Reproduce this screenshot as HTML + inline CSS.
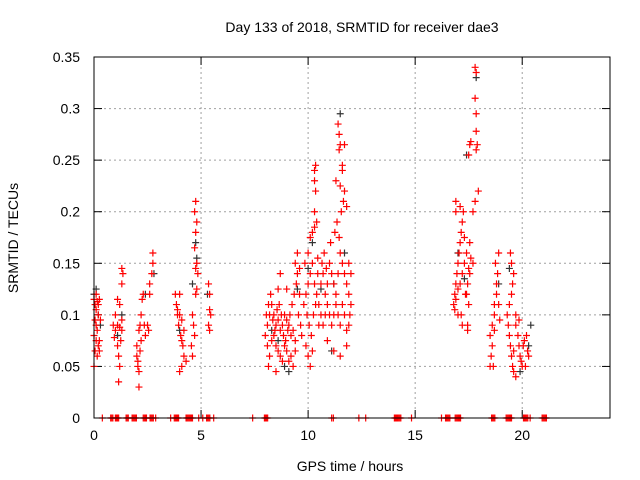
<!DOCTYPE html>
<html><head><meta charset="utf-8"><style>
body{margin:0;background:#fff}
svg{display:block;font-family:"Liberation Sans",sans-serif}
</style></head><body>
<svg id="chart" width="640" height="480">
<text x="362" y="32" font-size="14" text-anchor="middle">Day 133 of 2018, SRMTID for receiver dae3</text>
<text transform="translate(18,238) rotate(-90)" font-size="14" text-anchor="middle">SRMTID / TECUs</text>
<text x="350" y="471" font-size="14" text-anchor="middle">GPS time / hours</text>
<g id="grid"></g>
<g id="axes"></g>
<g id="pts"></g>
<rect x="94" y="57" width="516" height="361" fill="none" stroke="#000"/>
</svg>
<script>
const xTicks=[0,5,10,15,20];
const yTicks=[0,0.05,0.1,0.15,0.2,0.25,0.3,0.35];
const yTickLabels=["0","0.05","0.1","0.15","0.2","0.25","0.3","0.35"];
const redX=[0,0.05,0.1,0.15,0.2,0.25,0.05,0.1,0.15,0,0.1,0.2,0.05,0.15,0.25,0,0.3,0.2,0.1,0.25,
0.9,1,1.1,1.2,1.3,1,1.1,1.2,1.3,1.35,1.3,1.1,1.15,1.2,1.15,1.25,0.95,1.3,
2,2.05,2.1,2,2.15,2.1,2.2,2.15,2.2,2.25,2.3,2.35,2.4,2.05,2.1,2.6,2.7,2.75,2.75,2.6,2.5,2.55,
3.8,3.85,3.9,4,4.1,3.95,4.05,4.1,4.15,4.2,4.1,4,4.2,3.9,4.3,4,
4.6,4.65,4.7,4.55,4.75,4.8,4.75,4.8,4.7,4.75,4.7,4.75,4.8,4.85,4.6,
5.35,5.4,5.4,5.45,5.35,5.4,
8,8.1,8.2,8.3,8.4,8.5,8.6,8.7,8.8,8.9,9,9.1,9.2,9.3,9.4,8.1,8.2,8.3,8.4,8.5,8.6,8.7,8.8,8.9,9,9.1,9.2,9.3,9.4,8.05,8.15,8.25,8.35,8.45,8.55,8.65,8.75,8.85,8.95,9.05,9.15,9.25,9.35,9.45,9.5,9.4,9.5,9,8.6,8.7,9.6,9.6,9.55,9.65,9.7,8.15,8.5,
9.8,9.9,10,10.1,10.2,10.3,10.4,10.5,9.85,9.95,10.05,10.15,10.25,10.35,10.45,10,10.1,10.2,10.3,10.3,10.35,10.3,10.35,10.3,10.4,9.9,10,10.1,10.2,10.5,10.45,
10.6,10.7,10.8,10.9,11,11.1,11.2,11.3,11.4,11.5,11.6,11.7,11.8,11.9,12,10.6,10.7,10.8,10.9,11,11.1,11.2,11.3,11.4,11.5,11.6,11.7,11.8,11.9,12,10.65,10.75,10.85,11.05,11.25,11.35,11.45,11.55,11.65,11.7,11.5,11.6,11.45,11.45,11.4,11.5,11.7,11.6,11.3,11.8,11.9,11.95,11.5,11.2,11.8,10.9,
16.8,16.85,16.9,16.95,17,17.05,17.1,17.15,17.2,17.25,16.9,17,17.1,17.2,17.3,17.4,17.5,17.45,17.35,16.85,17,17.2,17.15,17.4,17.5,17.55,17.3,16.9,16.9,17.1,17.45,17.45,17.6,17.7,17.8,17.7,17.55,
17.8,17.85,17.8,17.85,17.85,17.9,17.85,17.5,17.55,17.6,17.95,
18.5,18.6,18.7,18.6,18.55,18.5,18.65,18.7,18.8,18.8,18.85,18.9,18.75,18.7,18.9,18.95,19.3,19.35,19.4,19.45,19.5,19.4,19.5,19.55,19.5,19.45,19.6,19.55,19.6,19.7,19.6,19.7,19.8,19.85,19.9,19.95,20,20.05,20.1,20.2,20.25,20.3,19.85,19.7,20.15];
const redY=[0.115,0.11,0.105,0.113,0.11,0.115,0.095,0.09,0.085,0.08,0.075,0.07,0.065,0.06,0.065,0.05,0.095,0.1,0.12,0.075,
0.09,0.085,0.09,0.088,0.085,0.1,0.115,0.11,0.13,0.14,0.145,0.07,0.06,0.05,0.035,0.075,0.078,0.095,
0.06,0.05,0.045,0.07,0.065,0.03,0.075,0.09,0.1,0.115,0.12,0.09,0.08,0.055,0.085,0.13,0.14,0.15,0.16,0.12,0.09,0.085,
0.12,0.11,0.1,0.1,0.095,0.09,0.08,0.075,0.07,0.06,0.05,0.045,0.085,0.105,0.055,0.12,
0.1,0.09,0.08,0.07,0.12,0.125,0.145,0.15,0.165,0.18,0.2,0.21,0.19,0.14,0.06,
0.13,0.12,0.105,0.1,0.09,0.085,
0.08,0.09,0.1,0.11,0.1,0.09,0.095,0.085,0.09,0.1,0.095,0.09,0.08,0.085,0.075,0.07,0.06,0.075,0.08,0.07,0.065,0.06,0.055,0.07,0.065,0.055,0.06,0.05,0.065,0.1,0.11,0.12,0.095,0.085,0.105,0.11,0.1,0.08,0.075,0.085,0.1,0.11,0.12,0.13,0.14,0.15,0.16,0.125,0.125,0.14,0.145,0.12,0.1,0.09,0.08,0.05,0.045,
0.11,0.12,0.13,0.14,0.15,0.13,0.12,0.11,0.15,0.1,0.09,0.08,0.1,0.11,0.14,0.16,0.175,0.18,0.185,0.2,0.22,0.23,0.245,0.24,0.19,0.07,0.06,0.05,0.065,0.09,0.155,
0.13,0.14,0.12,0.13,0.15,0.14,0.13,0.12,0.14,0.16,0.15,0.14,0.13,0.12,0.14,0.1,0.09,0.1,0.11,0.1,0.09,0.1,0.11,0.1,0.09,0.11,0.1,0.085,0.09,0.11,0.15,0.16,0.145,0.17,0.18,0.19,0.175,0.2,0.21,0.22,0.225,0.24,0.26,0.275,0.285,0.265,0.265,0.245,0.23,0.205,0.15,0.1,0.06,0.065,0.07,0.075,
0.11,0.12,0.13,0.14,0.15,0.16,0.17,0.18,0.19,0.2,0.115,0.125,0.13,0.14,0.15,0.16,0.145,0.13,0.12,0.105,0.1,0.09,0.1,0.12,0.11,0.17,0.175,0.2,0.21,0.205,0.09,0.085,0.155,0.2,0.21,0.15,0.14,
0.34,0.335,0.31,0.295,0.278,0.265,0.26,0.255,0.265,0.268,0.22,
0.08,0.09,0.1,0.07,0.06,0.05,0.05,0.085,0.12,0.13,0.14,0.16,0.15,0.11,0.11,0.095,0.1,0.09,0.08,0.07,0.06,0.11,0.12,0.13,0.15,0.16,0.14,0.05,0.045,0.04,0.065,0.09,0.08,0.07,0.06,0.055,0.05,0.07,0.075,0.08,0.065,0.06,0.095,0.1,0.05];
const blackX=[0,0.1,0.2,0.3,1.1,1.3,2.4,2.8,4,4.6,4.75,4.8,5.3,8.3,8.6,8.9,9.1,9.5,10,10.2,10.6,11.1,11.2,11.5,11.7,17,17.3,17.4,17.85,18.9,19.4,19.9,20.4,20.3];
const blackY=[0.12,0.125,0.1,0.09,0.08,0.1,0.12,0.14,0.085,0.13,0.17,0.155,0.12,0.085,0.075,0.05,0.045,0.125,0.145,0.17,0.125,0.065,0.13,0.295,0.16,0.16,0.135,0.255,0.33,0.13,0.145,0.045,0.09,0.07];
const zeroRanges=[[0.39,0.39],[0.78,0.92],[1.0,1.15],[1.5,1.62],[1.78,2.0],[2.3,2.46],[2.62,2.79],[2.88,2.88],[3.58,3.58],[3.75,3.96],[4.3,4.61],[4.89,4.89],[5.08,5.08],[5.26,5.45],[5.59,5.59],[7.41,7.41],[7.96,8.11],[11.1,11.1],[11.18,11.18],[12.37,12.37],[12.69,12.69],[14.03,14.35],[14.83,14.83],[16.23,16.23],[16.42,16.64],[16.87,17.15],[18.57,18.74],[19.25,19.53],[20.06,20.28],[20.37,20.37],[20.93,21.15]];
const X0=94,X1=610,Y0=418,Y1=57,XMAX=24.1,YMAX=0.35;
const sx=v=>X0+v/XMAX*(X1-X0), sy=v=>Y0-v/YMAX*(Y0-Y1);
const NS="http://www.w3.org/2000/svg";
function mk(tag,attrs,parent){const e=document.createElementNS(NS,tag);for(const k in attrs)e.setAttribute(k,attrs[k]);parent.appendChild(e);return e;}
const grid=document.getElementById('grid'),axes=document.getElementById('axes'),pts=document.getElementById('pts');
yTicks.forEach((t,i)=>{const y=sy(t);
 if(t>0&&t<YMAX){const g=mk('line',{x1:X0,x2:X1,y1:y,y2:y,stroke:'#a0a0a0','stroke-dasharray':'2,3'},grid);
 
 }
 mk('line',{x1:X0,x2:X0+8,y1:y,y2:y,stroke:'#000'},axes);
 mk('line',{x1:X1-8,x2:X1,y1:y,y2:y,stroke:'#000'},axes);
 const tx=mk('text',{x:X0-14,y:y+5,'font-size':14,'text-anchor':'end'},axes);tx.textContent=yTickLabels[i];
 
 
});
xTicks.forEach(t=>{const x=sx(t);
 if(t>0){const g=mk('line',{x1:x,x2:x,y1:Y1,y2:Y0,stroke:'#a0a0a0','stroke-dasharray':'2,3'},grid);
 
 }
 mk('line',{x1:x,x2:x,y1:Y0,y2:Y0-8,stroke:'#000'},axes);
 mk('line',{x1:x,x2:x,y1:Y1,y2:Y1+8,stroke:'#000'},axes);
 const tx=mk('text',{x:x,y:Y0+22,'font-size':14,'text-anchor':'middle'},axes);tx.textContent=String(t);
 
 
});
function plus(x,y,c,name){const p=mk('path',{d:`M${sx(x)-3.5},${sy(y)}h7M${sx(x)},${sy(y)-3.5}v7`,stroke:c,'stroke-width':1.2,fill:'none'},pts);
 
 }
blackX.forEach((x,i)=>plus(x,blackY[i],'#333','black-point'));
redX.forEach((x,i)=>plus(x,redY[i],'#ff0000','red-point'));
zeroRanges.forEach(r=>{for(let x=r[0];x<=r[1]+1e-9;x+=0.05)plus(x,0,'#ff0000','zero-point');});
</script>
</body></html>
